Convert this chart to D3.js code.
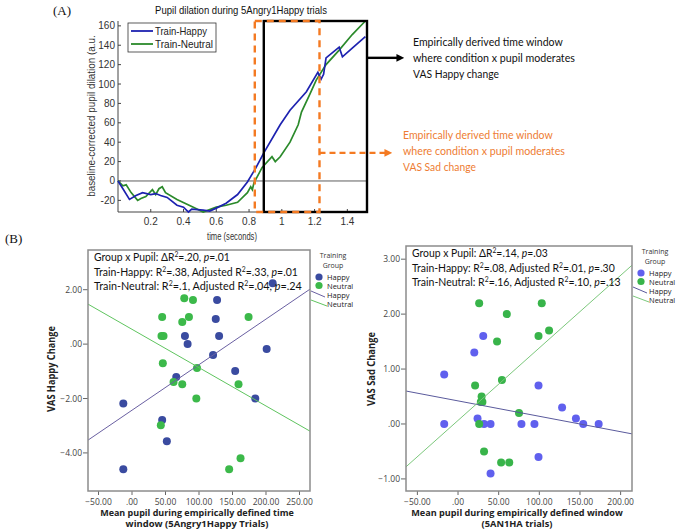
<!DOCTYPE html>
<html>
<head>
<meta charset="utf-8">
<script src="https://cdn.jsdelivr.net/npm/d3@7"></script>
<style>
  body { margin: 0; background: #fff; }
  svg { display: block; }
</style>
</head>
<body>
<div id="graph"></div>
<script>
// ---- data: panel A, pupil dilation curves (time in s, a.u.)
const happyT = [0,0.03,0.07,0.11,0.15,0.2,0.23,0.26,0.30,0.36,0.40,0.43,0.45,0.52,0.56,0.60,0.66,0.73,0.79,0.84,0.89,0.99,1.05,1.15,1.22,1.24,1.255,1.27,1.35,1.37,1.43,1.51];
const happyV = [0,-8,-19,-15,-12,-14,-13,-15,-17,-25,-27,-32,-29,-30,-31,-28,-23,-14,-1,13,29,58,73,92,112,105,110,127,138,128,137,149];
const neutralT = [0,0.03,0.05,0.08,0.12,0.14,0.17,0.21,0.23,0.25,0.27,0.29,0.36,0.46,0.52,0.60,0.66,0.73,0.79,0.81,0.82,0.83,0.88,0.94,0.96,0.99,1.05,1.10,1.12,1.17,1.21,1.27,1.35,1.43,1.51];
const neutralV = [0,-5,-4,-12,-20,-18,-16,-9,-14,-8,-6,-12,-19,-27,-32,-27,-25,-22,-12,-6,-9,-2,14,25,20,25,40,58,71,89,104,120,135,151,165];
const happyWindow = [0.89, 1.52];   // VAS Happy window
const sadWindow = [0.835, 1.23];    // VAS Sad window
const timeTicks = [0.2, 0.4, 0.6, 0.8, 1, 1.2, 1.4];
const dilationTicks = [-20, 0, 20, 40, 60, 80, 100, 120, 140, 160];

// ---- data: panel B left (VAS Happy change)
const leftHappyX = [210,127,125,79,130,83,201,121,154,66,184,-13,45,52,-13];
const leftHappyY = [2.24,1.62,0.92,0.30,0.30,0.0,-0.18,-0.40,-0.99,-1.21,-2.0,-2.18,-2.79,-3.57,-4.6];
const leftNeutralX = [78,91,45,85,174,75,44,47,46,97,62,75,159,96,43,162,145];
const leftNeutralY = [1.69,1.62,1.0,1.0,1.0,0.81,0.30,0.30,-0.70,-0.88,-1.39,-1.48,-1.48,-2.0,-2.98,-4.2,-4.6];
const leftFitX = [-65.7, 265.7];
const leftHappyFitY = [-3.53, 2.02];
const leftNeutralFitY = [1.47, -3.2];
const leftXTicks = [-50, 0, 50, 100, 150, 200, 250];
const leftYTicks = [-4, -2, 0, 2];

// ---- data: panel B right (VAS Sad change)
const rightHappyX = [31,20,-17,99,128,24,145,-17,32,40,78,94,154,173,99,40];
const rightHappyY = [1.6,1.3,0.9,0.7,0.3,0.1,0.1,0.0,0.0,0.0,0.0,0.0,0.0,0.0,-0.6,-0.9];
const rightNeutralX = [26,103,60,112,99,48,21,54,29,28,30,75,26,32,53,63];
const rightNeutralY = [2.2,2.2,2.0,1.7,1.6,1.5,0.7,0.8,0.5,0.4,0.4,0.2,0.0,-0.5,-0.7,-0.7];
const rightFitX = [-64, 214];
const rightHappyFitY = [0.6, -0.18];
const rightNeutralFitY = [-0.78, 2.89];
const rightXTicks = [-50, 0, 50, 100, 150, 200];
const rightYTicks = [-1, 0, 1, 2, 3];

const svg = d3.select("#graph").append("svg")
  .attr("width", 678).attr("height", 532);

// text helper: parts = [[str, kind]], kind: "sup" | "i" | undefined
function addText(parent, x, y, parts, o) {
  o = o || {};
  const g = parent.append("g");
  const t = g.append("text")
    .attr("text-anchor", o.anchor || "start")
    .attr("font-family", o.family || "Lato, 'Open Sans', sans-serif")
    .attr("font-size", o.size || 11)
    .attr("font-weight", o.weight || "normal")
    .attr("fill", o.fill || "#111");
  if (typeof parts === "string") parts = [[parts]];
  let up = false;
  parts.forEach(p => {
    const s = t.append("tspan").text(p[0]);
    if (p[1] === "sup") { s.attr("dy", -4).attr("font-size", (o.size || 11) * 0.65); up = true; }
    else if (up) { s.attr("dy", 4); up = false; }
    if (p[1] === "i") s.attr("font-style", "italic");
  });
  let tr = `translate(${x},${y})`;
  if (o.rot) tr += ` rotate(${o.rot})`;
  if (o.width) tr += ` scale(${o.width / t.node().getComputedTextLength()},1)`;
  g.attr("transform", tr);
  return g;
}

// ================= panel A =================
const x = d3.scaleLinear().domain([0, 1.52]).range([118, 367]);
const y = d3.scaleLinear().domain([-32, 165]).range([212, 21]);

addText(svg, 53, 15, "(A)", {family: "'Liberation Serif', serif", size: 13});
addText(svg, 241, 14, "Pupil dilation during 5Angry1Happy trials",
  {anchor: "middle", family: "'Liberation Sans', Arial, sans-serif", size: 10, width: 172});

const axA = svg.append("g").attr("font-family", "'Liberation Sans', Arial, sans-serif").attr("font-size", 10);
axA.append("line").attr("x1", x(0)).attr("x2", x(0)).attr("y1", y(165)).attr("y2", y(-32)).attr("stroke", "#444");
axA.append("line").attr("x1", x(0)).attr("x2", x(1.52)).attr("y1", y(-32)).attr("y2", y(-32)).attr("stroke", "#444");
dilationTicks.forEach(v => {
  axA.append("line").attr("x1", x(0)).attr("x2", x(0) + 3).attr("y1", y(v)).attr("y2", y(v)).attr("stroke", "#444");
  axA.append("text").attr("x", x(0) - 3).attr("y", y(v) + 3.5).attr("text-anchor", "end").attr("fill", "#333").text(v);
});
timeTicks.forEach(v => {
  axA.append("line").attr("x1", x(v)).attr("x2", x(v)).attr("y1", y(-32)).attr("y2", y(-32) - 3).attr("stroke", "#444");
  axA.append("text").attr("x", x(v)).attr("y", 225).attr("text-anchor", "middle").attr("fill", "#333").text(v);
});
addText(svg, 232, 240, "time (seconds)", {anchor: "middle", family: "'Liberation Sans', Arial, sans-serif", size: 10, fill: "#333", width: 50});
addText(svg, 95, 116, "baseline-corrected pupil dilation (a.u.", {anchor: "middle", rot: -90, family: "'Liberation Sans', Arial, sans-serif", size: 10, fill: "#333", width: 162});

// zero line
svg.append("line").attr("x1", x(0)).attr("x2", x(1.52)).attr("y1", y(0)).attr("y2", y(0)).attr("stroke", "#333").attr("stroke-width", 0.8);

const lineA = d3.line().x(d => x(d[0])).y(d => y(d[1]));
svg.append("path").datum(neutralT.map((t, i) => [t, neutralV[i]]))
  .attr("d", lineA).attr("fill", "none").attr("stroke", "#2b8a2b").attr("stroke-width", 1.7);
svg.append("path").datum(happyT.map((t, i) => [t, happyV[i]]))
  .attr("d", lineA).attr("fill", "none").attr("stroke", "#1d22b0").attr("stroke-width", 1.7);

// windows
svg.append("rect").attr("x", x(happyWindow[0])).attr("y", y(165))
  .attr("width", x(happyWindow[1]) - x(happyWindow[0])).attr("height", y(-32) - y(165))
  .attr("fill", "none").attr("stroke", "#000").attr("stroke-width", 2.4);
svg.append("rect").attr("x", x(sadWindow[0])).attr("y", y(165))
  .attr("width", x(sadWindow[1]) - x(sadWindow[0])).attr("height", y(-32) - y(165))
  .attr("fill", "none").attr("stroke", "#f47a22").attr("stroke-width", 2.4).attr("stroke-dasharray", "7,5");

// arrows
const defs = svg.append("defs");
[["ahBlack", "#000"], ["ahOrange", "#f47a22"]].forEach(([id, c]) => {
  defs.append("marker").attr("id", id).attr("viewBox", "0 0 10 10").attr("refX", 2).attr("refY", 5)
    .attr("markerWidth", 3.2).attr("markerHeight", 3.2).attr("orient", "auto")
    .append("path").attr("d", "M0,0L10,5L0,10z").attr("fill", c);
});
svg.append("line").attr("x1", x(happyWindow[1])).attr("x2", 398).attr("y1", y(127)).attr("y2", y(127))
  .attr("stroke", "#000").attr("stroke-width", 2.4).attr("marker-end", "url(#ahBlack)");
svg.append("line").attr("x1", x(sadWindow[1])).attr("x2", 386).attr("y1", y(29)).attr("y2", y(29))
  .attr("stroke", "#f47a22").attr("stroke-width", 2.4).attr("stroke-dasharray", "6,4").attr("marker-end", "url(#ahOrange)");

["Empirically derived time window", "where condition x pupil moderates", "VAS Happy change"].forEach((s, i) => {
  addText(svg, 413, 46 + i * 16, s, {size: 12, width: [150, 162, 86][i]});
});
["Empirically derived time window", "where condition x pupil moderates", "VAS Sad change"].forEach((s, i) => {
  addText(svg, 403, 139 + i * 16, s, {size: 12, fill: "#ee7d33", width: [150, 162, 73][i]});
});

// legend A
const lgA = svg.append("g");
lgA.append("rect").attr("x", 128).attr("y", 23).attr("width", 88).attr("height", 29)
  .attr("fill", "#fff").attr("stroke", "#333").attr("stroke-width", 0.8);
[["Train-Happy", "#1d22b0"], ["Train-Neutral", "#2b8a2b"]].forEach(([n, c], i) => {
  lgA.append("line").attr("x1", 131).attr("x2", 153).attr("y1", 31 + i * 13).attr("y2", 31 + i * 13)
    .attr("stroke", c).attr("stroke-width", 1.8);
  addText(lgA, 155, 35 + i * 13, n, {family: "'Liberation Sans', Arial, sans-serif", size: 10, fill: "#222", width: i ? 58 : 52});
});

// ================= panel B =================
addText(svg, 5, 243, "(B)", {family: "'Liberation Serif', serif", size: 13});

const fmt = v => v === 0 ? ".00" : d3.format(".2f")(v);

function scatter(c) {
  const sx = d3.scaleLinear().domain(c.xDom).range([c.left, c.right]);
  const sy = d3.scaleLinear().domain(c.yDom).range([c.bottom, c.top]);
  const g = svg.append("g");
  const ax = g.append("g").attr("font-family", "'Open Sans', sans-serif").attr("font-size", 8.5).attr("fill", "#444");
  c.yTicks.forEach(v => {
    ax.append("line").attr("x1", c.left - 5).attr("x2", c.left).attr("y1", sy(v)).attr("y2", sy(v)).attr("stroke", "#666");
    ax.append("text").attr("x", c.left - 6).attr("y", sy(v) + 3).attr("text-anchor", "end").text(fmt(v));
  });
  c.xTicks.forEach(v => {
    ax.append("line").attr("x1", sx(v)).attr("x2", sx(v)).attr("y1", c.bottom).attr("y2", c.bottom + 4).attr("stroke", "#666");
    ax.append("text").attr("x", sx(v)).attr("y", c.bottom + 14).attr("text-anchor", "middle").text(fmt(v));
  });
  // points
  c.hx.forEach((v, i) => g.append("circle").attr("cx", sx(v)).attr("cy", sy(c.hy[i])).attr("r", 4).attr("fill", c.hCol));
  c.nx.forEach((v, i) => g.append("circle").attr("cx", sx(v)).attr("cy", sy(c.ny[i])).attr("r", 4).attr("fill", c.nCol));
  // fit lines
  g.append("line").attr("x1", sx(c.fitX[0])).attr("x2", sx(c.fitX[1])).attr("y1", sy(c.hFit[0])).attr("y2", sy(c.hFit[1]))
    .attr("stroke", c.hLine).attr("stroke-width", 1);
  g.append("line").attr("x1", sx(c.fitX[0])).attr("x2", sx(c.fitX[1])).attr("y1", sy(c.nFit[0])).attr("y2", sy(c.nFit[1]))
    .attr("stroke", c.nLine).attr("stroke-width", 1);
  // box
  g.append("rect").attr("x", c.left).attr("y", c.top).attr("width", c.right - c.left).attr("height", c.bottom - c.top)
    .attr("fill", "none").attr("stroke", "#8c8c8c").attr("stroke-width", 1.5);
  // stats
  c.stats.forEach((p, i) => addText(g, c.left + 6, c.top + 11 + i * 14.5, p, {size: 12, fill: "#111", width: c.statW[i]}));
  // axis titles
  addText(g, c.ylx, 369, c.yLabel, {anchor: "middle", rot: -90, family: "'Open Sans', sans-serif", size: 10, weight: "bold", fill: "#222", width: c.yLabW});
  c.xLabel.forEach((s, i) => addText(g, (c.left + c.right) / 2 - 2, 515.5 + i * 11.5, s,
    {anchor: "middle", family: "'Open Sans', sans-serif", size: 8.5, weight: "bold", fill: "#222", width: c.xLabW[i]}));
  // legend
  const lx = c.right + 8;
  const lg = g.append("g");
  addText(lg, c.right + 23, c.top + 8, "Training", {anchor: "middle", family: "'Open Sans', sans-serif", size: 7, fill: "#333"});
  addText(lg, c.right + 23, c.top + 17.5, "Group", {anchor: "middle", family: "'Open Sans', sans-serif", size: 7, fill: "#333"});
  [["Happy", c.hCol], ["Neutral", c.nCol]].forEach(([n, col], i) => {
    lg.append("circle").attr("cx", lx + 1).attr("cy", c.top + 27 + i * 8.5).attr("r", 3.6).attr("fill", col);
    addText(lg, lx + 9, c.top + 30 + i * 8.5, n, {family: "'Open Sans', sans-serif", size: 7.5, fill: "#222"});
  });
  [["Happy", c.hLine], ["Neutral", c.nLine]].forEach(([n, col], i) => {
    lg.append("line").attr("x1", c.right + 1).attr("x2", lx + 7 + i * 2).attr("y1", c.top + 41 + i * 9).attr("y2", c.top + 47 + i * 9)
      .attr("stroke", col).attr("stroke-width", 1);
    addText(lg, lx + 9, c.top + 48 + i * 8.5, n, {family: "'Open Sans', sans-serif", size: 7.5, fill: "#222"});
  });
}

scatter({
  left: 88, right: 310, top: 250, bottom: 491,
  xDom: [-65.7, 265.7], yDom: [-5.4, 3.46],
  xTicks: leftXTicks, yTicks: leftYTicks,
  hx: leftHappyX, hy: leftHappyY, nx: leftNeutralX, ny: leftNeutralY,
  fitX: leftFitX, hFit: leftHappyFitY, nFit: leftNeutralFitY,
  hCol: "#3a4ba0", nCol: "#3cb94a", hLine: "#6a60a2", nLine: "#5fc45f",
  stats: [
    [["Group x Pupil: ΔR"], ["2", "sup"], ["=.20, "], ["p", "i"], ["=.01"]],
    [["Train-Happy: R"], ["2", "sup"], ["=.38, Adjusted R"], ["2", "sup"], ["=.33, "], ["p", "i"], ["=.01"]],
    [["Train-Neutral: R"], ["2", "sup"], ["=.1, Adjusted R"], ["2", "sup"], ["=.04,  "], ["p", "i"], ["=.24"]]
  ],
  statW: [136, 204, 208],
  ylx: 55, yLabel: "VAS Happy Change", yLabW: 86,
  xLabel: ["Mean pupil during empirically defined time", "window (5Angry1Happy Trials)"], xLabW: [194, 143]
});

scatter({
  left: 406, right: 632, top: 246, bottom: 491,
  xDom: [-64, 214], yDom: [-1.22, 3.24],
  xTicks: rightXTicks, yTicks: rightYTicks,
  hx: rightHappyX, hy: rightHappyY, nx: rightNeutralX, ny: rightNeutralY,
  fitX: rightFitX, hFit: rightHappyFitY, nFit: rightNeutralFitY,
  hCol: "#6060ee", nCol: "#38b44a", hLine: "#5a5a9c", nLine: "#7cc87c",
  stats: [
    [["Group x Pupil: ΔR"], ["2", "sup"], ["=.14, "], ["p", "i"], ["=.03"]],
    [["Train-Happy: R"], ["2", "sup"], ["=.08, Adjusted R"], ["2", "sup"], ["=.01, "], ["p", "i"], ["=.30"]],
    [["Train-Neutral: R"], ["2", "sup"], ["=.16, Adjusted R"], ["2", "sup"], ["=.10, "], ["p", "i"], ["=.13"]]
  ],
  statW: [136, 203, 209],
  ylx: 375, yLabel: "VAS Sad Change", yLabW: 74,
  xLabel: ["Mean pupil during empirically defined window", "(5AN1HA trials)"], xLabW: [212, 71]
});
</script>
</body>
</html>
